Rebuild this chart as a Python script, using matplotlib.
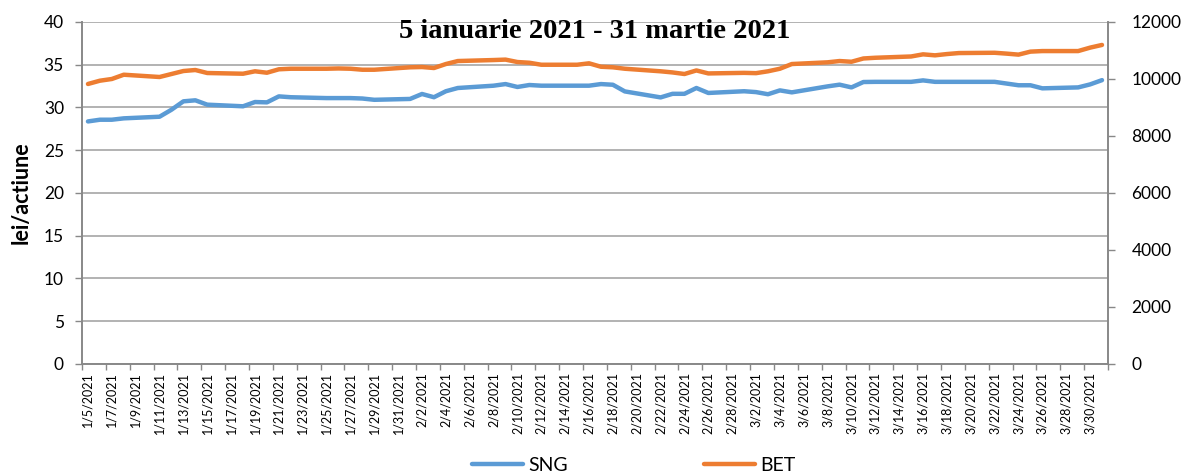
import matplotlib
matplotlib.use("Agg")
import matplotlib.pyplot as plt
import matplotlib.dates as mdates
import pandas as pd

# ---- data ----
dates = ["2021-01-05", "2021-01-06", "2021-01-07", "2021-01-08",
         "2021-01-11", "2021-01-12", "2021-01-13", "2021-01-14", "2021-01-15",
         "2021-01-18", "2021-01-19", "2021-01-20", "2021-01-21", "2021-01-22",
         "2021-01-25", "2021-01-26", "2021-01-27", "2021-01-28", "2021-01-29",
         "2021-02-01", "2021-02-02", "2021-02-03", "2021-02-04", "2021-02-05",
         "2021-02-08", "2021-02-09", "2021-02-10", "2021-02-11", "2021-02-12",
         "2021-02-15", "2021-02-16", "2021-02-17", "2021-02-18", "2021-02-19",
         "2021-02-22", "2021-02-23", "2021-02-24", "2021-02-25", "2021-02-26",
         "2021-03-01", "2021-03-02", "2021-03-03", "2021-03-04", "2021-03-05",
         "2021-03-08", "2021-03-09", "2021-03-10", "2021-03-11", "2021-03-12",
         "2021-03-15", "2021-03-16", "2021-03-17", "2021-03-18", "2021-03-19",
         "2021-03-22", "2021-03-23", "2021-03-24", "2021-03-25", "2021-03-26",
         "2021-03-29", "2021-03-30", "2021-03-31"]

sng = [28.37, 28.57, 28.57, 28.73,
       28.92, 29.74, 30.72, 30.84, 30.33,
       30.14, 30.64, 30.60, 31.30, 31.20,
       31.10, 31.10, 31.10, 31.05, 30.90,
       31.00, 31.58, 31.20, 31.90, 32.28,
       32.55, 32.74, 32.40, 32.63, 32.55,
       32.55, 32.55, 32.74, 32.66, 31.88,
       31.18, 31.60, 31.60, 32.28, 31.70,
       31.90, 31.80, 31.55, 32.00, 31.77,
       32.47, 32.67, 32.35, 32.98, 33.00,
       33.00, 33.17, 33.00, 33.00, 33.00,
       33.00, 32.80, 32.60, 32.60, 32.24,
       32.35, 32.70, 33.20]

bet = [9825, 9940, 10000, 10150,
       10070, 10175, 10280, 10315, 10210,
       10185, 10270, 10220, 10340, 10360,
       10360, 10370, 10360, 10325, 10325,
       10410, 10420, 10385, 10525, 10630,
       10665, 10680, 10595, 10570, 10500,
       10500, 10550, 10430, 10410, 10360,
       10270, 10230, 10175, 10300, 10195,
       10215, 10205, 10270, 10360, 10525,
       10585, 10630, 10605, 10720, 10745,
       10790, 10865, 10830, 10875, 10910,
       10920, 10890, 10855, 10960, 10980,
       10980, 11100, 11195]

title = "5 ianuarie 2021 - 31 martie 2021"
ylabel = "lei/actiune"
left_ticks = [0, 5, 10, 15, 20, 25, 30, 35, 40]
right_ticks = [0, 2000, 4000, 6000, 8000, 10000, 12000]

# ---- plot ----
plt.rcParams['font.family'] = ['Lato', 'DejaVu Sans']
dt = pd.to_datetime(dates)
xs = mdates.date2num(dt)

fig = plt.figure(figsize=(11.85, 4.75), dpi=100)
ax = fig.add_axes([0.0692, 0.2337, 0.8658, 0.7200])
ax2 = ax.twinx()

blue = "#5B9BD5"
orange = "#ED7D31"
l1, = ax.plot(xs, sng, color=blue, lw=3.2, solid_capstyle='round', label="SNG")
l2, = ax2.plot(xs, bet, color=orange, lw=3.2, solid_capstyle='round', label="BET")

start = mdates.date2num(pd.Timestamp("2021-01-05"))
end = mdates.date2num(pd.Timestamp("2021-03-31"))
ax.set_xlim(start - 0.5, end + 0.5)
ax.set_ylim(0, 40)
ax2.set_ylim(0, 12000)

label_days = pd.date_range("2021-01-05", "2021-03-31", freq="2D")
ax.set_xticks(mdates.date2num(label_days))
ax.set_xticklabels([f"{d.month}/{d.day}/{d.year}" for d in label_days],
                   rotation=90, fontsize=9)
bounds = [start - 0.5 + 2 * i for i in range(44)]
ax.set_xticks(bounds, minor=True)
ax.tick_params(axis='x', which='major', length=0, pad=6)
ax.tick_params(axis='x', which='minor', length=4, color="#888888", width=1)

ax.set_yticks(left_ticks)
ax.tick_params(axis='y', labelsize=12.5, length=5, color="#888888", width=1, pad=8)
ax2.set_yticks(right_ticks)
ax2.tick_params(axis='y', labelsize=12.5, length=5, color="#888888", width=1, pad=12)

ax.grid(axis='y', color="#A6A6A6", lw=1.2)
ax.set_axisbelow(True)
for a in (ax, ax2):
    a.spines["top"].set_visible(False)
    for s in ("left", "right", "bottom"):
        a.spines[s].set_color("#888888")
        a.spines[s].set_linewidth(1.2)

ax.set_ylabel(ylabel, fontsize=15.5, fontweight='bold', labelpad=9)
ax.text(0.5, 0.972, title, transform=ax.transAxes, ha='center', va='center',
        fontsize=20.5, fontweight='bold', family='Liberation Serif')

fig.legend([l1, l2], ["SNG", "BET"], loc='center', bbox_to_anchor=(0.535, 0.02),
           ncol=2, frameon=False, fontsize=14, handlelength=2.6, columnspacing=7.0,
           handletextpad=0.3)

fig.savefig("out.png", dpi=100)
